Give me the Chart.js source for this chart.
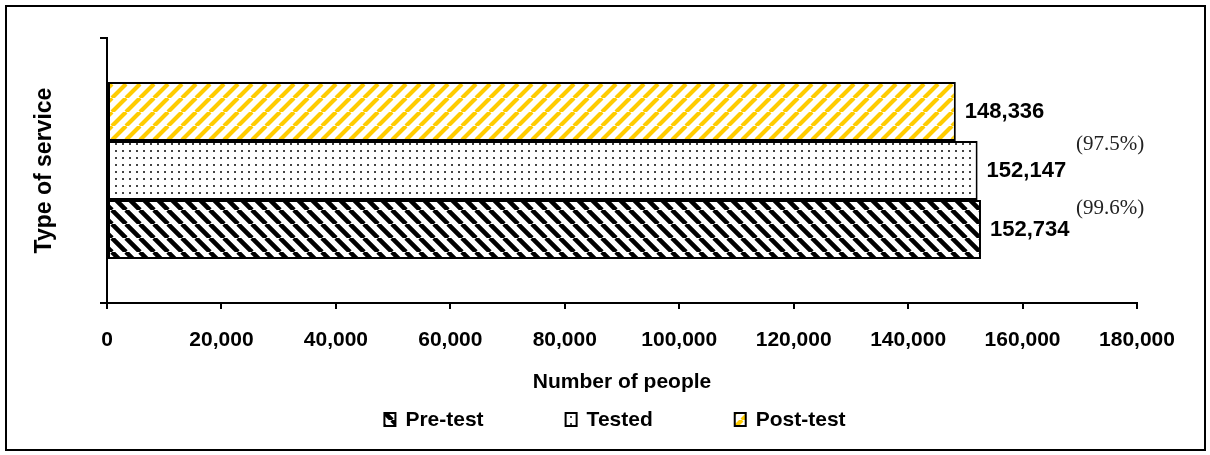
<!DOCTYPE html>
<html>
<head>
<meta charset="utf-8">
<script src="https://cdn.jsdelivr.net/npm/chart.js@4/dist/chart.umd.min.js"></script>
<style>
  body { margin: 0; background: #fff; }
  canvas { display: block; }
</style>
</head>
<body>
<canvas id="myChart" width="1210" height="455"></canvas>
<script>
// values
const categories = [""]
const seriesNames = ["Pre-test", "Tested", "Post-test"]
const seriesValues = [152734, 152147, 148336]
const shareLabels = ["(99.6%)", "(97.5%)"] // Tested vs Pre-test, Post-test vs Tested
const xMin = 0
const xMax = 180000
const xStep = 20000

const sansFont = "Arial, 'Liberation Sans', sans-serif"
const serifFont = "'Times New Roman', 'Liberation Serif', serif"

function stripePattern(color, dir, width) {
  const size = 14
  const tile = document.createElement("canvas")
  tile.width = size
  tile.height = size
  const g = tile.getContext("2d")
  g.fillStyle = "#fff"
  g.fillRect(0, 0, size, size)
  g.strokeStyle = color
  g.lineWidth = width
  g.beginPath()
  for (let k = -1; k <= 1; k++) {
    if (dir === "/") {
      g.moveTo(k * size, size)
      g.lineTo(k * size + size, 0)
    } else {
      g.moveTo(k * size, 0)
      g.lineTo(k * size + size, size)
    }
  }
  g.stroke()
  return g.createPattern(tile, "repeat")
}

function dotPattern() {
  const tile = document.createElement("canvas")
  tile.width = 7
  tile.height = 7
  const g = tile.getContext("2d")
  g.fillStyle = "#fff"
  g.fillRect(0, 0, 7, 7)
  g.fillStyle = "#444"
  g.fillRect(3, 3, 2, 2)
  return g.createPattern(tile, "repeat")
}

const fills = [
  stripePattern("#000", "\\", 4.6),
  dotPattern(),
  stripePattern("#ffcc00", "/", 4.2),
]

// Post-test is drawn on top, so datasets go in reverse order
const datasets = []
for (let i = seriesNames.length - 1; i >= 0; i--) {
  datasets.push({
    label: seriesNames[i],
    data: [seriesValues[i]],
    backgroundColor: fills[i],
    borderColor: "#000",
    borderWidth: 2,
    borderSkipped: false,
    categoryPercentage: 0.668,
    barPercentage: 1.0,
  })
}

const frame = {
  id: "frame",
  beforeDraw(chart) {
    const ctx = chart.ctx
    ctx.save()
    ctx.fillStyle = "#fff"
    ctx.fillRect(0, 0, chart.width, chart.height)
    ctx.strokeStyle = "#000"
    ctx.lineWidth = 2
    ctx.strokeRect(6, 6, chart.width - 11, chart.height - 11)
    ctx.restore()
  },
}

const valueLabels = {
  id: "valueLabels",
  afterDatasetsDraw(chart) {
    const ctx = chart.ctx
    ctx.save()
    ctx.font = "bold 22px " + sansFont
    ctx.fillStyle = "#000"
    ctx.textAlign = "left"
    ctx.textBaseline = "middle"
    chart.data.datasets.forEach((ds, i) => {
      const bar = chart.getDatasetMeta(i).data[0]
      ctx.fillText(ds.data[0].toLocaleString("en-US"), bar.x + 9, bar.y)
    })

    // percentages sit between neighbouring bars, near the right end
    ctx.font = "21px " + serifFont
    ctx.fillStyle = "#222"
    const x = chart.scales.x.getPixelForValue(xMax) - 61
    const bars = chart.data.datasets.map((ds, i) => chart.getDatasetMeta(i).data[0])
    // bars[0] = Post-test, bars[1] = Tested, bars[2] = Pre-test
    ctx.fillText(shareLabels[1], x, (bars[0].y + bars[1].y) / 2 + 3)
    ctx.fillText(shareLabels[0], x, (bars[1].y + bars[2].y) / 2 + 8)
    ctx.restore()
  },
}

const bottomLegend = {
  id: "bottomLegend",
  afterDraw(chart) {
    const ctx = chart.ctx
    ctx.save()
    ctx.font = "bold 21px " + sansFont
    ctx.textBaseline = "middle"
    ctx.textAlign = "left"
    const box = 11
    const boxGap = 10
    const itemGap = 82
    let total = 0
    seriesNames.forEach((name, i) => {
      total += box + boxGap + ctx.measureText(name).width
      if (i > 0) total += itemGap
    })
    const area = chart.chartArea
    let x = (area.left + area.right) / 2 - 7 - total / 2
    const y = 420
    seriesNames.forEach((name) => {
      const ds = chart.data.datasets.find((d) => d.label === name)
      ctx.fillStyle = ds.backgroundColor
      ctx.fillRect(x, y - 7, box, 13)
      ctx.strokeStyle = "#000"
      ctx.lineWidth = 2
      ctx.strokeRect(x, y - 7, box, 13)
      ctx.fillStyle = "#000"
      ctx.fillText(name, x + box + boxGap, y)
      x += box + boxGap + ctx.measureText(name).width + itemGap
    })
    ctx.restore()
  },
}

new Chart(document.getElementById("myChart"), {
  type: "bar",
  data: {
    labels: categories,
    datasets: datasets,
  },
  options: {
    indexAxis: "y",
    responsive: false,
    animation: false,
    devicePixelRatio: 1,
    layout: {
      padding: { top: 38, right: 73, bottom: 40, left: 0 },
    },
    plugins: {
      legend: { display: false },
      tooltip: { enabled: false },
    },
    scales: {
      x: {
        min: xMin,
        max: xMax,
        ticks: {
          stepSize: xStep,
          color: "#000",
          padding: 19,
          maxRotation: 0,
          font: { family: sansFont, size: 21, weight: "bold" },
        },
        grid: {
          drawOnChartArea: false,
          drawTicks: true,
          tickLength: 6,
          color: "#000",
          lineWidth: 2,
        },
        border: { display: true, color: "#000", width: 2 },
        title: {
          display: true,
          text: "Number of people",
          color: "#000",
          font: { family: sansFont, size: 21, weight: "bold" },
          padding: { top: 0, bottom: 20 },
        },
        afterFit(scale) {
          scale.height = 112
        },
      },
      y: {
        ticks: { display: false },
        grid: {
          drawOnChartArea: false,
          drawTicks: true,
          tickLength: 7,
          color: "#000",
          lineWidth: 2,
        },
        border: { display: true, color: "#000", width: 2 },
        title: {
          display: true,
          text: "Type of service",
          color: "#000",
          font: { family: sansFont, size: 23, weight: "bold" },
          padding: { top: 31, bottom: 0 },
        },
        afterFit(scale) {
          scale.width = 107
        },
      },
    },
  },
  plugins: [frame, valueLabels, bottomLegend],
})
</script>
</body>
</html>
